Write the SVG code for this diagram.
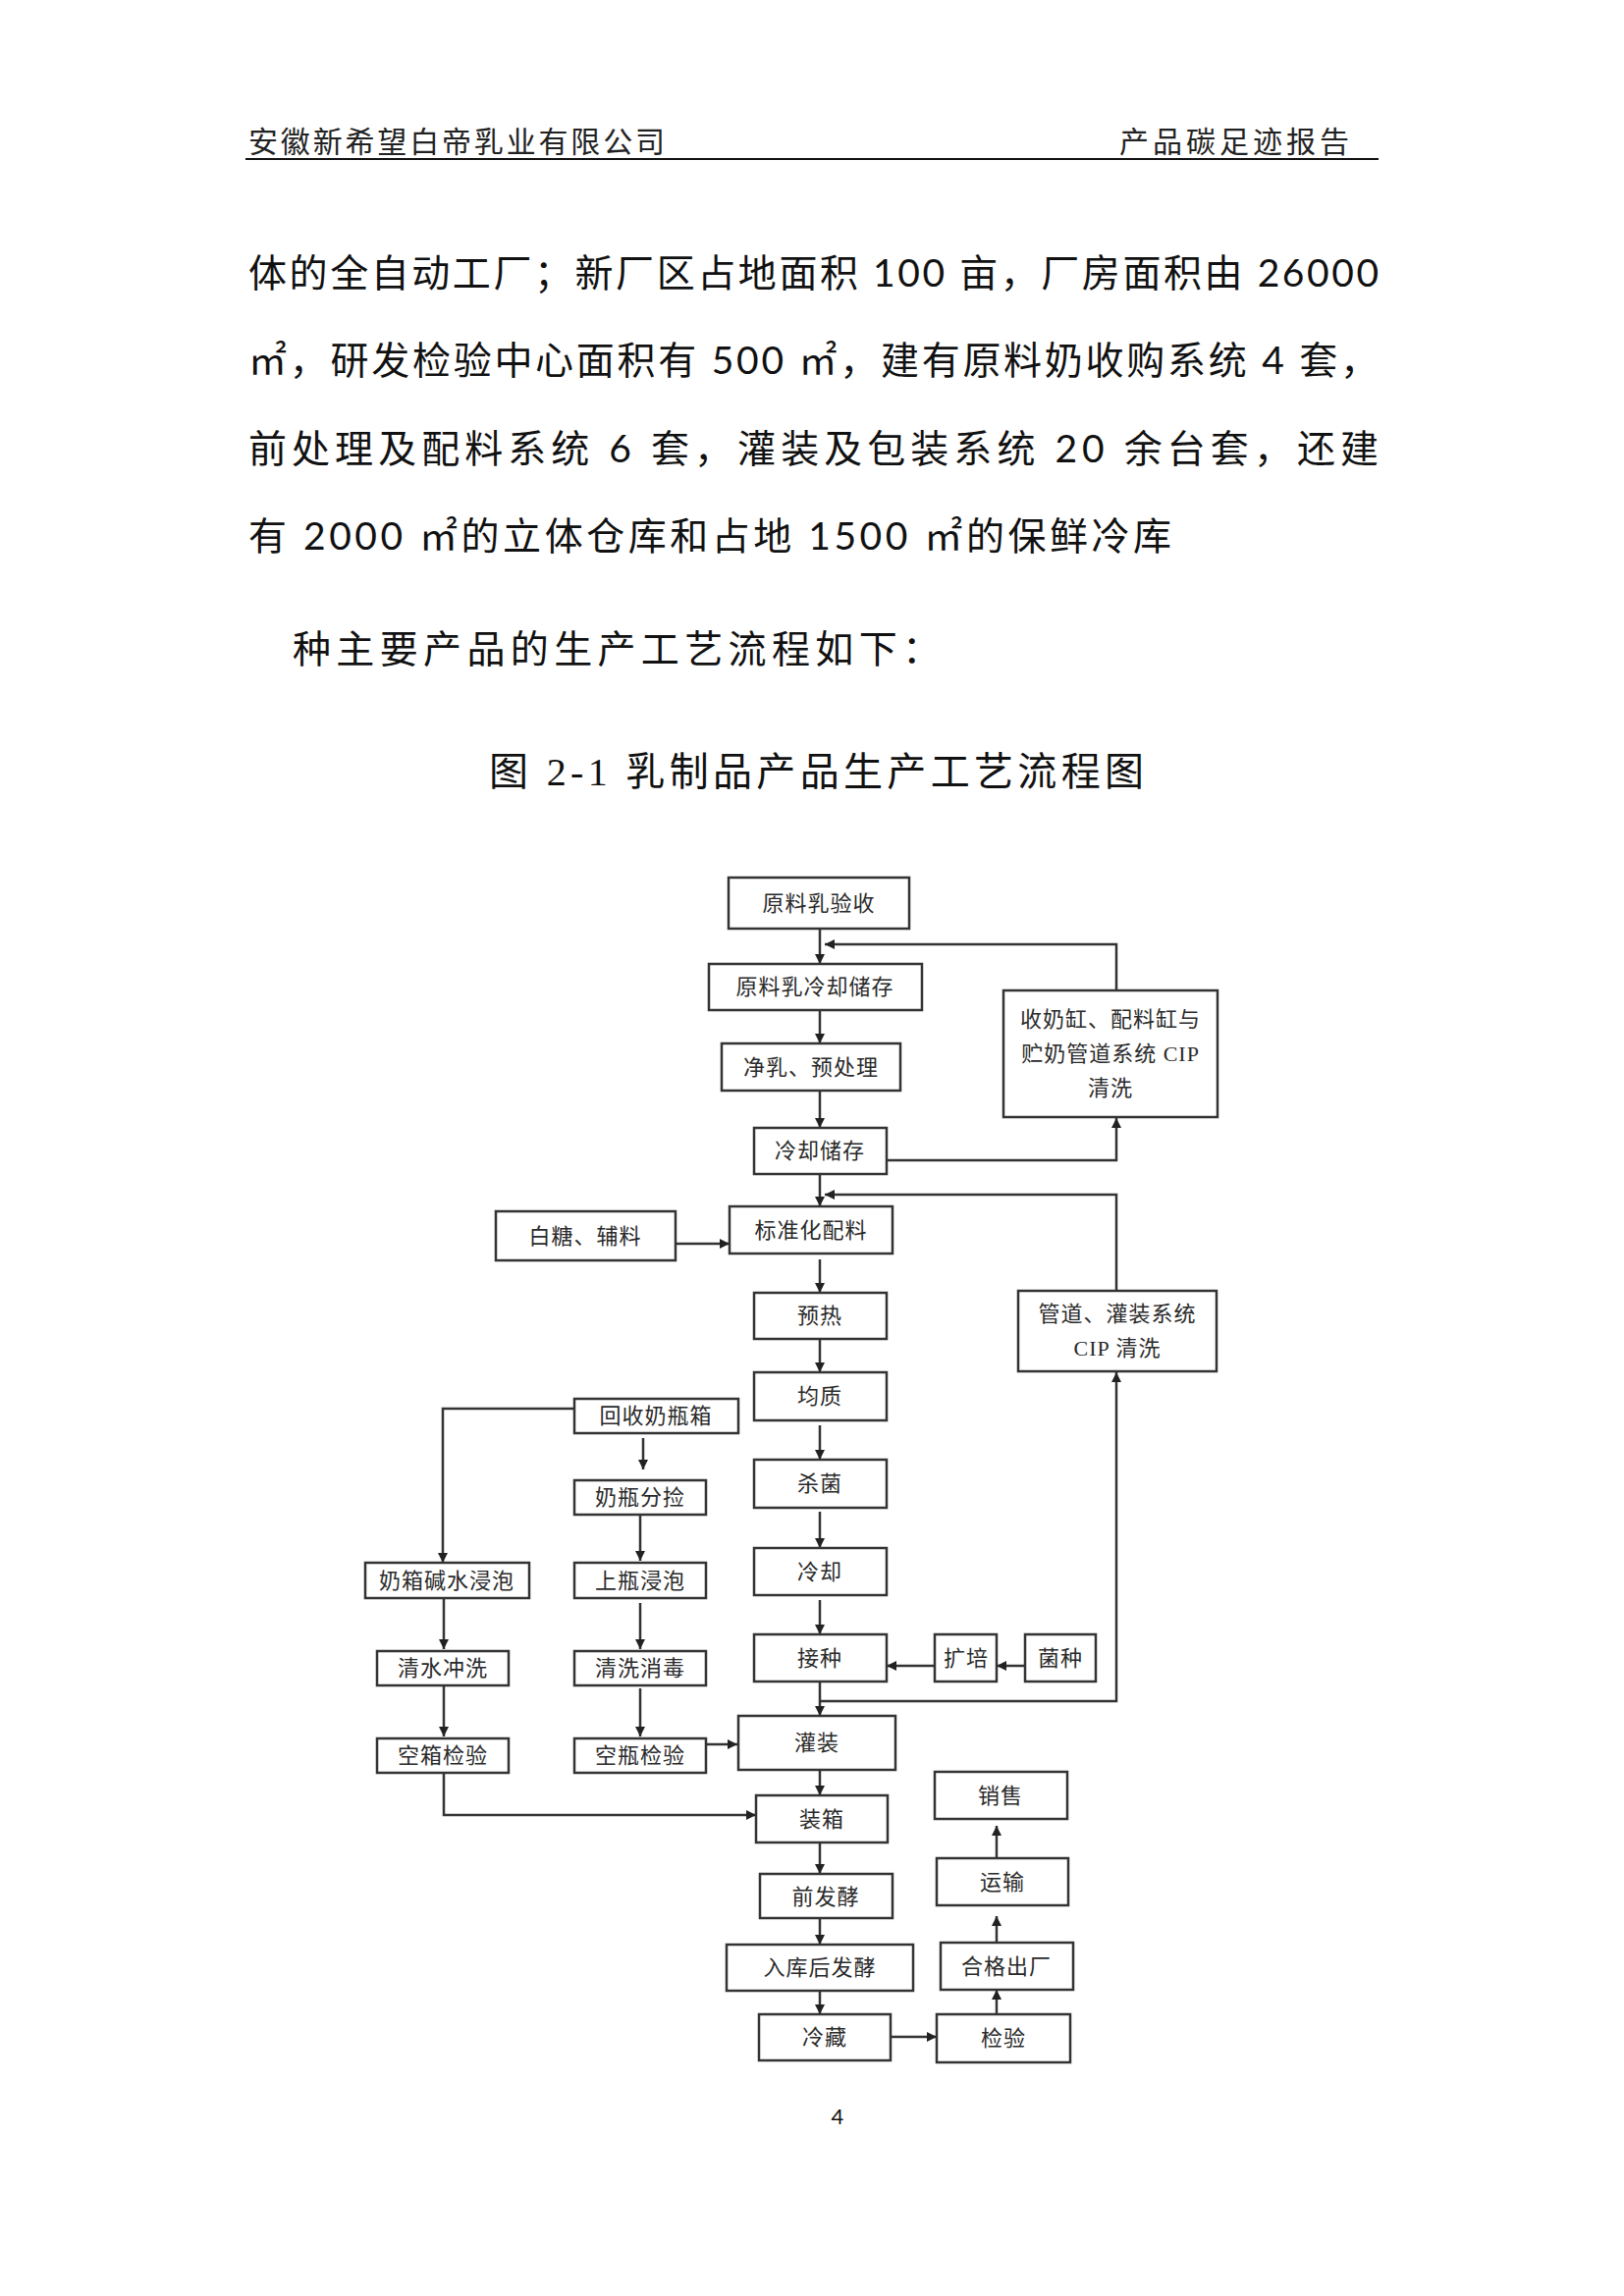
<svg xmlns="http://www.w3.org/2000/svg" width="1654" height="2339" viewBox="0 0 1654 2339">
<style>
.bg{fill:#fff}
.hd{font-family:"Lato","Noto Sans CJK SC",sans-serif;font-size:30px;fill:#222}
.bd{font-family:"Lato","Noto Sans CJK SC",sans-serif;font-size:39px;fill:#111}
.ti{font-family:"Liberation Serif","Noto Sans CJK SC",serif;font-size:40px;fill:#111}
.box{fill:#fff;stroke:#333;stroke-width:2.5}
.t{font-family:"Liberation Serif","Noto Sans CJK SC",serif;font-size:22px;fill:#2a2a2a;text-anchor:middle;letter-spacing:1px}
.c{fill:none;stroke:#333;stroke-width:2.5}
.pn{font-family:"Lato","Liberation Sans",sans-serif;font-size:22px;fill:#111;text-anchor:middle}
</style>
<defs>
<marker id="ar" viewBox="0 0 10 10" refX="10" refY="5" markerWidth="11" markerHeight="10" markerUnits="userSpaceOnUse" orient="auto">
<path d="M0,0 L10,5 L0,10 z" fill="#222"/>
</marker>
</defs>
<rect class="bg" x="0" y="0" width="1654" height="2339"/>

<g id="header">
<text class="hd" x="253" y="155" textLength="424" lengthAdjust="spacing">安徽新希望白帝乳业有限公司</text>
<text class="hd" x="1140" y="155" textLength="234" lengthAdjust="spacing">产品碳足迹报告</text>
<line x1="250" y1="162" x2="1404" y2="162" stroke="#111" stroke-width="2"/>
</g>

<g id="body">
<text class="bd" x="253" y="292" textLength="1151" lengthAdjust="spacing">体的全自动工厂；新厂区占地面积 100 亩，厂房面积由 26000</text>
<text class="bd" x="253" y="381" textLength="1151" lengthAdjust="spacing">㎡，研发检验中心面积有 500 ㎡，建有原料奶收购系统 4 套，</text>
<text class="bd" x="253" y="471" textLength="1151" lengthAdjust="spacing">前处理及配料系统 6 套，灌装及包装系统 20 余台套，还建</text>
<text class="bd" x="253" y="560" textLength="940" lengthAdjust="spacing">有 2000 ㎡的立体仓库和占地 1500 ㎡的保鲜冷库</text>
<text class="bd" x="298" y="675" textLength="660" lengthAdjust="spacing">种主要产品的生产工艺流程如下：</text>
<text class="ti" x="498" y="800" textLength="667" lengthAdjust="spacing">图 2-1  乳制品产品生产工艺流程图</text>
</g>

<g id="connectors">
<path class="c" d="M835 946 V982" marker-end="url(#ar)"/>
<path class="c" d="M1137 1009 V962 H840" marker-end="url(#ar)"/>
<path class="c" d="M835 1029 V1063" marker-end="url(#ar)"/>
<path class="c" d="M835 1111 V1149" marker-end="url(#ar)"/>
<path class="c" d="M903 1182 H1137 V1139" marker-end="url(#ar)"/>
<path class="c" d="M835 1196 V1229" marker-end="url(#ar)"/>
<path class="c" d="M1137 1315 V1217 H840" marker-end="url(#ar)"/>
<path class="c" d="M688 1267 H743" marker-end="url(#ar)"/>
<path class="c" d="M835 1283 V1317" marker-end="url(#ar)"/>
<path class="c" d="M835 1364 V1398" marker-end="url(#ar)"/>
<path class="c" d="M835 1452 V1487" marker-end="url(#ar)"/>
<path class="c" d="M835 1540 V1577" marker-end="url(#ar)"/>
<path class="c" d="M835 1630 V1665" marker-end="url(#ar)"/>
<path class="c" d="M835 1713 V1748" marker-end="url(#ar)"/>
<path class="c" d="M835 1733 H1137 V1398" marker-end="url(#ar)"/>
<path class="c" d="M1044 1697 H1015" marker-end="url(#ar)"/>
<path class="c" d="M952 1697 H903" marker-end="url(#ar)"/>
<path class="c" d="M835 1803 V1829" marker-end="url(#ar)"/>
<path class="c" d="M835 1877 V1909" marker-end="url(#ar)"/>
<path class="c" d="M835 1954 V1981" marker-end="url(#ar)"/>
<path class="c" d="M835 2028 V2052" marker-end="url(#ar)"/>
<path class="c" d="M907 2075 H954" marker-end="url(#ar)"/>
<path class="c" d="M1015 2052 V2027" marker-end="url(#ar)"/>
<path class="c" d="M1015 1979 V1952" marker-end="url(#ar)"/>
<path class="c" d="M1015 1893 V1860" marker-end="url(#ar)"/>
<path class="c" d="M585 1435 H451 V1592" marker-end="url(#ar)"/>
<path class="c" d="M655 1465 V1497" marker-end="url(#ar)"/>
<path class="c" d="M652 1543 V1590" marker-end="url(#ar)"/>
<path class="c" d="M652 1633 V1680" marker-end="url(#ar)"/>
<path class="c" d="M652 1720 V1769" marker-end="url(#ar)"/>
<path class="c" d="M719 1777 H751" marker-end="url(#ar)"/>
<path class="c" d="M452 1628 V1680" marker-end="url(#ar)"/>
<path class="c" d="M452 1717 V1769" marker-end="url(#ar)"/>
<path class="c" d="M452 1806 V1849 H770" marker-end="url(#ar)"/>
</g>

<g id="n1"><rect class="box" x="742" y="894" width="184" height="52"/><text class="t" x="834" y="928">原料乳验收</text></g>
<g id="n2"><rect class="box" x="722" y="982" width="217" height="47"/><text class="t" x="830" y="1013">原料乳冷却储存</text></g>
<g id="n3"><rect class="box" x="735" y="1063" width="182" height="48"/><text class="t" x="826" y="1095">净乳、预处理</text></g>
<g id="n4"><rect class="box" x="768" y="1149" width="135" height="47"/><text class="t" x="835" y="1180">冷却储存</text></g>
<g id="n5"><rect class="box" x="743" y="1229" width="166" height="48"/><text class="t" x="826" y="1261">标准化配料</text></g>
<g id="n6"><rect class="box" x="505" y="1234" width="183" height="50"/><text class="t" x="596" y="1267">白糖、辅料</text></g>
<g id="n7"><rect class="box" x="768" y="1317" width="135" height="47"/><text class="t" x="835" y="1348">预热</text></g>
<g id="n8"><rect class="box" x="768" y="1398" width="135" height="49"/><text class="t" x="835" y="1430">均质</text></g>
<g id="n9"><rect class="box" x="768" y="1487" width="135" height="49"/><text class="t" x="835" y="1519">杀菌</text></g>
<g id="n10"><rect class="box" x="768" y="1577" width="135" height="48"/><text class="t" x="835" y="1609">冷却</text></g>
<g id="n11"><rect class="box" x="768" y="1665" width="135" height="48"/><text class="t" x="835" y="1697">接种</text></g>
<g id="n12"><rect class="box" x="752" y="1748" width="160" height="55"/><text class="t" x="832" y="1783">灌装</text></g>
<g id="n13"><rect class="box" x="770" y="1829" width="134" height="48"/><text class="t" x="837" y="1861">装箱</text></g>
<g id="n14"><rect class="box" x="774" y="1909" width="135" height="45"/><text class="t" x="841" y="1940">前发酵</text></g>
<g id="n15"><rect class="box" x="740" y="1981" width="190" height="47"/><text class="t" x="835" y="2012">入库后发酵</text></g>
<g id="n16"><rect class="box" x="773" y="2052" width="134" height="47"/><text class="t" x="840" y="2083">冷藏</text></g>
<g id="n17"><rect class="box" x="954" y="2052" width="136" height="49"/><text class="t" x="1022" y="2084">检验</text></g>
<g id="n18"><rect class="box" x="958" y="1979" width="135" height="48"/><text class="t" x="1025" y="2011">合格出厂</text></g>
<g id="n19"><rect class="box" x="954" y="1893" width="134" height="48"/><text class="t" x="1021" y="1925">运输</text></g>
<g id="n20"><rect class="box" x="952" y="1805" width="135" height="48"/><text class="t" x="1019" y="1837">销售</text></g>
<g id="n21"><rect class="box" x="1022" y="1009" width="218" height="129"/><text class="t" x="1131" y="1046">收奶缸、配料缸与</text><text class="t" x="1131" y="1081">贮奶管道系统 CIP</text><text class="t" x="1131" y="1116">清洗</text></g>
<g id="n22"><rect class="box" x="1037" y="1315" width="202" height="82"/><text class="t" x="1138" y="1346">管道、灌装系统</text><text class="t" x="1138" y="1381">CIP 清洗</text></g>
<g id="n23"><rect class="box" x="952" y="1665" width="63" height="48"/><text class="t" x="984" y="1697">扩培</text></g>
<g id="n24"><rect class="box" x="1044" y="1665" width="72" height="48"/><text class="t" x="1080" y="1697">菌种</text></g>
<g id="n25"><rect class="box" x="585" y="1425" width="167" height="35"/><text class="t" x="668" y="1450">回收奶瓶箱</text></g>
<g id="n26"><rect class="box" x="585" y="1508" width="134" height="35"/><text class="t" x="652" y="1533">奶瓶分捡</text></g>
<g id="n27"><rect class="box" x="585" y="1592" width="134" height="36"/><text class="t" x="652" y="1618">上瓶浸泡</text></g>
<g id="n28"><rect class="box" x="585" y="1682" width="134" height="35"/><text class="t" x="652" y="1707">清洗消毒</text></g>
<g id="n29"><rect class="box" x="585" y="1771" width="134" height="35"/><text class="t" x="652" y="1796">空瓶检验</text></g>
<g id="n30"><rect class="box" x="372" y="1592" width="167" height="36"/><text class="t" x="455" y="1618">奶箱碱水浸泡</text></g>
<g id="n31"><rect class="box" x="384" y="1682" width="134" height="35"/><text class="t" x="451" y="1707">清水冲洗</text></g>
<g id="n32"><rect class="box" x="384" y="1771" width="134" height="35"/><text class="t" x="451" y="1796">空箱检验</text></g>

<text class="pn" x="853" y="2164">4</text>
</svg>
